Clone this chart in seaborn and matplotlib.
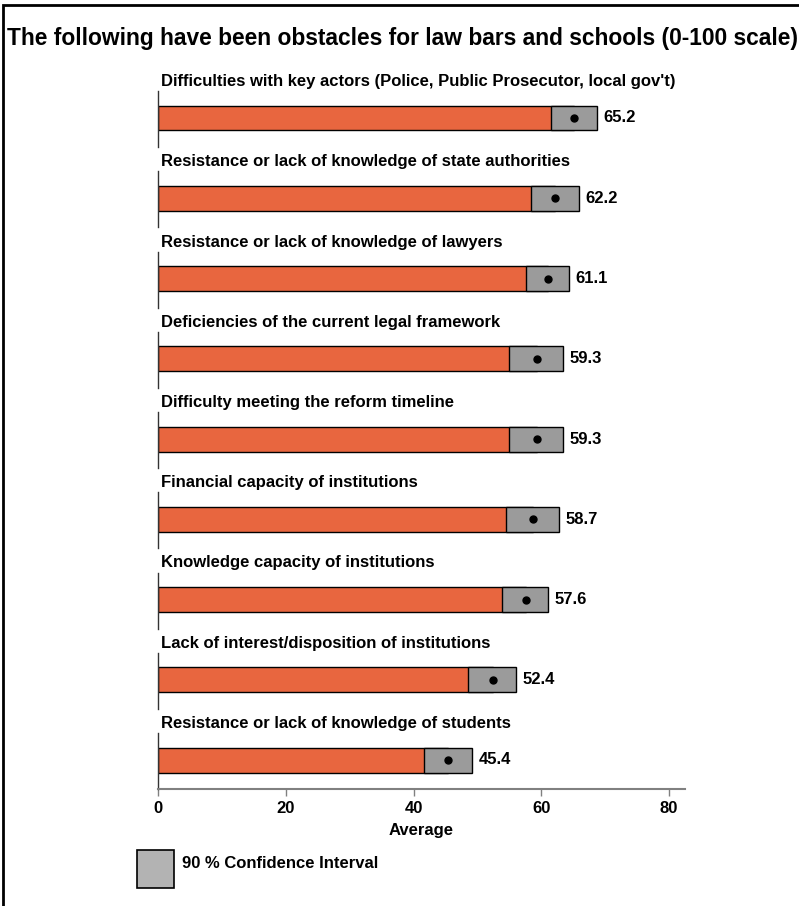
import matplotlib
matplotlib.use("Agg")
import matplotlib.pyplot as plt
from matplotlib.patches import Rectangle
import seaborn as sns
import pandas as pd

# Obstacle categories, means and 90% confidence bounds
categories = [
    "Difficulties with key actors (Police, Public Prosecutor, local gov't)",
    "Resistance or lack of knowledge of state authorities",
    "Resistance or lack of knowledge of lawyers",
    "Deficiencies of the current legal framework",
    "Difficulty meeting the reform timeline",
    "Financial capacity of institutions",
    "Knowledge capacity of institutions",
    "Lack of interest/disposition of institutions",
    "Resistance or lack of knowledge of students",
]
means = [65.2, 62.2, 61.1, 59.3, 59.3, 58.7, 57.6, 52.4, 45.4]
ci_low = [61.5, 58.4, 57.6, 55.0, 55.0, 54.4, 53.8, 48.6, 41.6]
ci_high = [68.7, 65.9, 64.4, 63.4, 63.4, 62.8, 61.1, 56.1, 49.2]
x_ticks = [0, 20, 40, 60, 80]

title = "The following have been obstacles for law bars and schools (0-100 scale)"
x_label = "Average"
legend_label = "90 % Confidence Interval"

ORANGE = "#E8663F"
CI_GRAY = "#9B9B9B"
LEGEND_GRAY = "#B3B3B3"
FS = 12

sns.set_theme(style="white")
plt.rcParams["font.family"] = ["Liberation Sans", "DejaVu Sans"]
plt.rcParams["font.weight"] = "bold"
plt.rcParams["text.color"] = "black"
plt.rcParams["xtick.color"] = "black"
plt.rcParams["axes.labelcolor"] = "black"

W, H = 799, 906
fig = plt.figure(figsize=(W / 100, H / 100), dpi=100)

df = pd.DataFrame({"category": categories, "mean": means,
                   "low": ci_low, "high": ci_high})

# outer frame (runs off the right and bottom edges)
fig.add_artist(Rectangle((3 / W, -0.1), 2, 1.1 - 5 / H, transform=fig.transFigure,
                         fill=False, edgecolor="black", linewidth=2, clip_on=False))

fig.text(7 / W, 1 - 38 / H, title, fontsize=16.4, fontweight="bold",
         ha="left", va="center")

left_px, width_px = 158, 527
px_per_unit = 25 / 0.8
n = len(df)
for i, row in df.iterrows():
    center = 118 + i * 80.25
    top, bottom = center - 27, center + 29
    ax = fig.add_axes([left_px / W, 1 - bottom / H, width_px / W, (bottom - top) / H])
    sub = df.iloc[[i]]
    sns.barplot(data=sub, x="mean", y="category", orient="h", ax=ax,
                color=ORANGE, edgecolor="black", linewidth=1, width=0.8,
                saturation=1)
    ax.barh(0, row["high"] - row["low"], left=row["low"], height=0.8,
            color=CI_GRAY, edgecolor="black", linewidth=1, zorder=3)
    ax.plot(row["mean"], 0, "o", color="black", ms=5, zorder=4)
    ax.text(row["high"] + 1.0, 0, f"{row['mean']:.1f}", va="center", ha="left",
            fontsize=FS, fontweight="bold")
    ax.set_xlim(0, 82.5)
    ax.set_ylim(29 / px_per_unit, -27 / px_per_unit)
    ax.set_yticks([])
    ax.set_ylabel("")
    ax.annotate(row["category"], xy=(0, 1), xycoords="axes fraction",
                xytext=(3, 5), textcoords="offset pixels",
                ha="left", va="baseline", fontsize=FS, fontweight="bold")
    for s in ("top", "right"):
        ax.spines[s].set_visible(False)
    ax.spines["left"].set_color("#333333")
    ax.spines["left"].set_linewidth(1)
    if i == n - 1:
        ax.spines["bottom"].set_color("#808080")
        ax.spines["bottom"].set_linewidth(1.5)
        ax.set_xticks(x_ticks)
        ax.set_xticklabels([str(t) for t in x_ticks], fontsize=FS, fontweight="bold")
        ax.tick_params(axis="x", bottom=True, length=5, width=1, color="#808080", pad=3.5)
        ax.set_xlabel(x_label, fontsize=FS, fontweight="bold", labelpad=5)
    else:
        ax.spines["bottom"].set_visible(False)
        ax.set_xticks([])
        ax.set_xlabel("")

# legend swatch
fig.add_artist(Rectangle((137 / W, 1 - 888 / H), 37 / W, 38 / H,
                         transform=fig.transFigure, facecolor=LEGEND_GRAY,
                         edgecolor="black", linewidth=1.2))
fig.text(182 / W, 1 - 864 / H, legend_label, fontsize=FS, fontweight="bold",
         ha="left", va="center")

fig.savefig("out.png", dpi=100)
